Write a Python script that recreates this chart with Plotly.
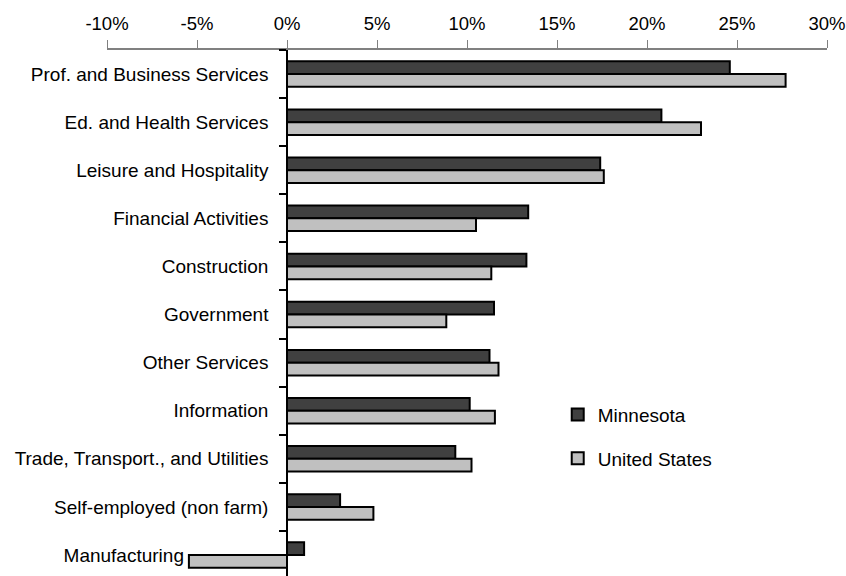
import plotly.graph_objects as go

NBSP = "\u00a0"

categories = [
    "Prof. and Business Services",
    "Ed. and Health Services",
    "Leisure and Hospitality",
    "Financial Activities",
    "Construction",
    "Government",
    "Other Services",
    "Information",
    "Trade, Transport., and Utilities",
    "Self-employed (non farm)",
    "Manufacturing",
]
category_labels = categories[:-1] + ["Manufacturing" + NBSP * 16]

minnesota = [24.6, 20.8, 17.4, 13.4, 13.3, 11.5, 11.25, 10.15, 9.35, 2.95, 0.95]
united_states = [27.7, 23.0, 17.6, 10.5, 11.35, 8.85, 11.75, 11.55, 10.25, 4.8, -5.45]

x_tickvals = [-10, -5, 0, 5, 10, 15, 20, 25, 30]
x_ticktext = ["-10%", "-5%", "0%", "5%", "10%", "15%", "20%", "25%", "30%"]

FONT = "Liberation Sans, Arial, sans-serif"

fig = go.Figure()
fig.add_trace(go.Bar(
    y=categories, x=minnesota, orientation="h", name="Minnesota",
    legendgroup="mn",
    marker=dict(color="#404040", line=dict(color="black", width=2)),
))
fig.add_trace(go.Bar(
    y=categories, x=united_states, orientation="h", name="United States",
    legendgroup="us",
    marker=dict(color="#C0C0C0", line=dict(color="black", width=2)),
))

fig.update_layout(
    width=846, height=576,
    margin=dict(l=107, r=19, t=50, b=0),
    paper_bgcolor="white", plot_bgcolor="white",
    font=dict(family=FONT, size=19, color="black"),
    barmode="group", bargap=0.47, bargroupgap=0,
    showlegend=True,
    legend=dict(
        x=0.626, y=0.343, xanchor="left", yanchor="top",
        traceorder="grouped", tracegroupgap=16,
        bgcolor="rgba(0,0,0,0)", font=dict(size=19, family=FONT),
    ),
    xaxis=dict(
        side="top", range=[-10, 30], tickvals=x_tickvals, ticktext=x_ticktext,
        tickfont=dict(size=18.5),
        automargin=False, ticklabeloverflow="allow",
        showgrid=False, zeroline=False,
        showline=True, linecolor="#808080", linewidth=2,
        ticks="outside", ticklen=8, tickcolor="#808080", tickwidth=1,
        ticklabelstandoff=3,
    ),
    yaxis=dict(
        type="category", categoryorder="array", categoryarray=categories,
        tickvals=categories, ticktext=category_labels,
        range=[10.436, -0.5],
        automargin=False,
        anchor="free", position=0.25,
        showgrid=False, zeroline=False,
        showline=True, linecolor="black", linewidth=1.5,
        ticks="outside", tickson="boundaries", ticklen=7,
        tickcolor="black", tickwidth=1.5,
        ticklabelstandoff=14,
    ),
)

fig.write_html(
    "out.html",
    config={"displayModeBar": False},
    post_script="document.body.style.margin='0';document.body.style.overflow='hidden';",
)
